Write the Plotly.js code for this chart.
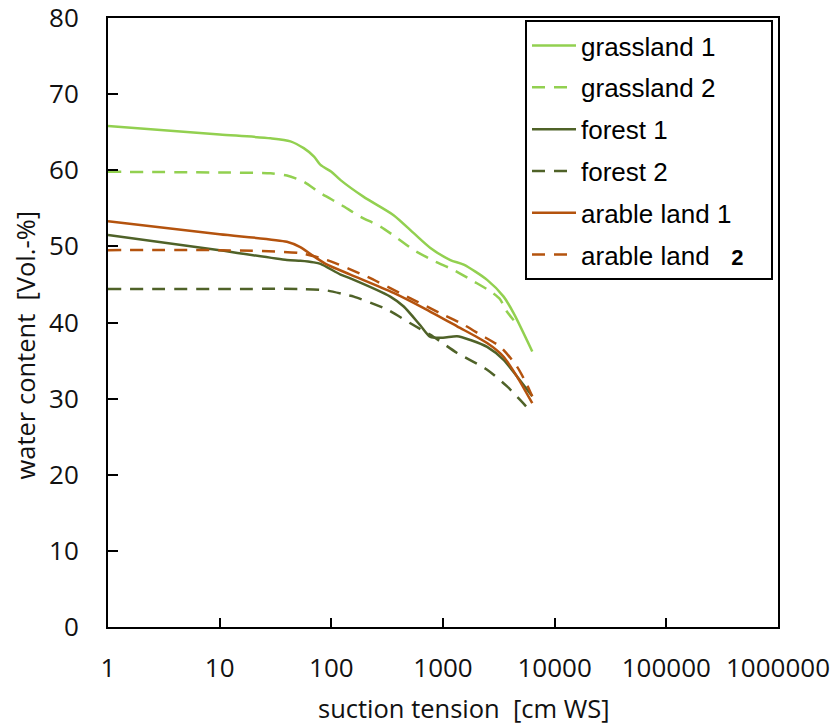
<!DOCTYPE html>
<html>
<head>
<meta charset="utf-8">
<script src="https://cdn.plot.ly/plotly-3.0.1.min.js"></script>
<style>html,body{margin:0;padding:0;background:#fff;}#chart{width:834px;height:726px;}</style>
</head>
<body>
<div id="chart"></div>
<script>
// suction tension [cm WS] and water content [Vol.-%]
const grass1X = [1, 10, 28.6, 43, 56.6, 70, 80, 100, 121, 195, 361, 550, 771, 1165, 1532, 2483, 3490, 4300, 6300];
const grass1Y = [65.8, 64.7, 64.2, 63.8, 62.9, 61.8, 60.7, 59.8, 58.7, 56.5, 54.1, 51.7, 49.8, 48.2, 47.6, 45.6, 43.4, 41.2, 36.2];

const grass2X = [1, 10, 28.6, 40, 56.6, 80, 121, 182, 275, 388, 550, 826, 1247, 1884, 2654, 3265, 3620, 4300];
const grass2Y = [59.8, 59.7, 59.6, 59.3, 58.5, 57.0, 55.5, 53.9, 52.6, 51.1, 49.5, 48.1, 46.9, 45.4, 44.1, 43.0, 41.7, 40.3];

const forest1X = [1, 10, 40, 53, 69.5, 80, 121, 148, 337, 445, 628, 771, 1000, 1337, 1760, 2483, 3490, 4600, 6300];
const forest1Y = [51.5, 49.5, 48.2, 48.1, 47.9, 47.7, 46.3, 45.8, 43.4, 42.1, 39.6, 38.1, 38.0, 38.2, 37.7, 36.8, 35.1, 32.9, 30.3];

const forest2X = [1, 10, 53, 91.7, 138, 159, 316, 510, 826, 1337, 2483, 3750, 4930, 6300];
const forest2Y = [44.4, 44.4, 44.4, 44.2, 43.6, 43.4, 41.7, 39.9, 38.1, 36.0, 33.8, 31.6, 29.8, 28.1];

const arable1X = [1, 10, 40, 52.7, 69.5, 91.7, 148, 361, 672, 1337, 2483, 3490, 4600, 6300];
const arable1Y = [53.3, 51.6, 50.6, 49.9, 48.7, 47.6, 46.3, 43.9, 41.9, 39.5, 37.3, 35.5, 32.9, 29.4];

const arable2X = [1, 10, 52.7, 91.7, 210, 475, 1015, 1532, 2160, 3265, 4600, 5660, 6300];
const arable2Y = [49.5, 49.5, 49.1, 48.2, 46.0, 43.4, 41.0, 39.7, 38.4, 36.8, 34.2, 31.8, 30.3];

const seriesNames = ['grassland 1', 'grassland 2', 'forest 1', 'forest 2', 'arable land 1',
  'arable land&nbsp;&nbsp;&nbsp;<span style="font-size:22px"><b>2</b></span>&nbsp;&nbsp;&nbsp;'];

const xTickVals = [1, 10, 100, 1000, 10000, 100000, 1000000];
const xTickText = ['1', '10', '100', '1000', '10000', '100000', '1000000'];
const yTickVals = [0, 10, 20, 30, 40, 50, 60, 70, 80];

const cLight = '#92d050', cDark = '#4f6228', cBrown = '#b4530e';
const DASH = '13px,9px';

function tr(x, y, name, color, dash, i) {
  return {
    x: x, y: y, name: name, type: 'scatter', mode: 'lines',
    line: {color: color, width: 2.5, dash: dash, shape: 'spline', smoothing: 0.7},
    legendgroup: 'g' + i, hoverinfo: 'skip'
  };
}

const data = [
  tr(grass1X, grass1Y, seriesNames[0], cLight, 'solid', 0),
  tr(grass2X, grass2Y, seriesNames[1], cLight, DASH, 1),
  tr(forest1X, forest1Y, seriesNames[2], cDark, 'solid', 2),
  tr(forest2X, forest2Y, seriesNames[3], cDark, DASH, 3),
  tr(arable1X, arable1Y, seriesNames[4], cBrown, 'solid', 4),
  tr(arable2X, arable2Y, seriesNames[5], cBrown, DASH, 5)
];

const tickFont = {family: 'Open Sans, DejaVu Sans, sans-serif', size: 26, color: '#111'};
const titleFont = {family: 'Open Sans, DejaVu Sans, sans-serif', size: 25.5, color: '#111'};

const layout = {
  width: 834, height: 726,
  margin: {l: 108, r: 56, t: 18, b: 99, pad: 0},
  paper_bgcolor: '#fff', plot_bgcolor: '#fff',
  showlegend: true,
  xaxis: {
    type: 'log', range: [0, 6], tickvals: xTickVals, ticktext: xTickText,
    ticks: 'inside', ticklen: 9, tickwidth: 2, tickcolor: '#000',
    showline: true, linewidth: 2, linecolor: '#000', mirror: true,
    showgrid: false, zeroline: false, tickfont: tickFont, ticklabelstandoff: 17,
    ticklabeloverflow: 'allow'
  },
  yaxis: {
    range: [0, 80.0001], tickvals: yTickVals,
    ticks: 'inside', ticklen: 10, tickwidth: 2, tickcolor: '#000',
    showline: true, linewidth: 2, linecolor: '#000', mirror: true,
    showgrid: false, zeroline: false, tickfont: tickFont, ticklabelstandoff: 22,
    ticklabeloverflow: 'allow'
  },
  legend: {
    x: 0.6224, y: 0.9965, xanchor: 'left', yanchor: 'top',
    bgcolor: '#fff', bordercolor: '#000', borderwidth: 2,
    font: {family: 'Liberation Sans, Arial, sans-serif', size: 26, color: '#000'},
    traceorder: 'grouped', tracegroupgap: 5,
    itemwidth: 44
  },
  annotations: [
    {text: 'suction tension&nbsp;&nbsp;[cm WS]', xref: 'paper', yref: 'paper',
     x: 0.531, y: -0.1330, xanchor: 'center', yanchor: 'middle', showarrow: false, font: titleFont},
    {text: 'water content&nbsp;&nbsp;[Vol.-%]', xref: 'paper', yref: 'paper', textangle: -90,
     x: -0.1239, y: 0.4639, xanchor: 'center', yanchor: 'middle', showarrow: false, font: titleFont}
  ]
};

Plotly.newPlot('chart', data, layout, {displayModeBar: false, staticPlot: true});
</script>
</body>
</html>
